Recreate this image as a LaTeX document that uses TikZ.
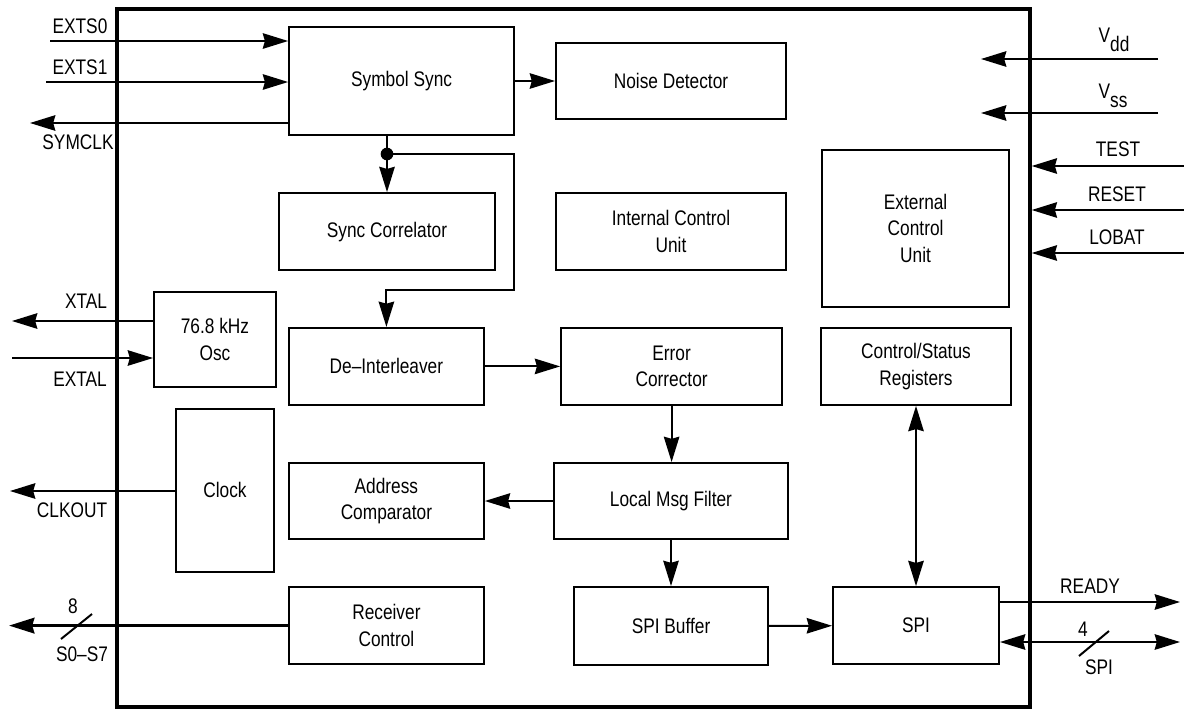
\documentclass[tikz,border=0pt]{standalone}
\usepackage{fontspec}
\setmainfont{Liberation Sans}[FakeStretch=0.82]
\usetikzlibrary{arrows.meta}

\begin{document}
\begin{tikzpicture}[every node/.style={font=\fontsize{15}{19}\selectfont},
    >={Stealth[length=18pt,width=11pt,inset=1.5pt]},
    blk/.style={draw, line width=1.4pt, align=center, inner sep=0pt},
    wire/.style={line width=1.4pt},
    bus/.style={line width=2.4pt}]
    \useasboundingbox (0,0) rectangle (29.6,-17.75);
    \node[draw, line width=2.4pt, minimum width=22.825cm,
      minimum height=17.45cm] (chip) at (14.3375,-8.95) {};

    \node[blk, minimum width=5.625cm, minimum height=2.7cm] (sync) at (10.04,-2.025) {Symbol Sync};
    \node[blk, minimum width=5.75cm, minimum height=1.9cm] (noise) at (16.775,-2.025) {Noise Detector};
    \node[blk, minimum width=5.4cm, minimum height=1.925cm] (corr) at (9.675,-5.79) {Sync Correlator};
    \node[blk, minimum width=5.75cm, minimum height=1.925cm] (icu) at (16.775,-5.79) {Internal Control\\Unit};
    \node[blk, minimum width=4.675cm, minimum height=3.925cm] (ecu) at (22.89,-5.71) {External\\Control\\Unit};
    \node[blk, minimum width=3.05cm, minimum height=2.375cm] (osc) at (5.375,-8.49) {76.8 kHz\\Osc};
    \node[blk, minimum width=4.875cm, minimum height=1.925cm] (deint) at (9.66,-9.16) {De--Interleaver};
    \node[blk, minimum width=5.525cm, minimum height=1.925cm] (errc) at (16.79,-9.16) {Error\\Corrector};
    \node[blk, minimum width=4.75cm, minimum height=1.925cm] (csr) at (22.9,-9.16) {Control/Status\\Registers};
    \node[blk, minimum width=2.45cm, minimum height=4.075cm] (clk) at (5.625,-12.26) {Clock};
    \node[blk, minimum width=4.875cm, minimum height=1.9cm] (addr) at (9.66,-12.525) {Address\\Comparator};
    \node[blk, minimum width=5.85cm, minimum height=1.9cm] (lmf) at (16.775,-12.525) {Local Msg Filter};
    \node[blk, minimum width=4.875cm, minimum height=1.925cm] (rxc) at (9.66,-15.64) {Receiver\\Control};
    \node[blk, minimum width=4.85cm, minimum height=1.95cm] (spibuf) at (16.775,-15.65) {SPI Buffer};
    \node[blk, minimum width=4.15cm, minimum height=1.925cm] (spi) at (22.9,-15.64) {SPI};

    \coordinate (in0) at (1.25,-1.025);
    \coordinate (in1) at (1.15,-2.05);
    \coordinate (symclk) at (0.75,-3.075);
    \coordinate (xtal) at (0.3,-8.025);
    \coordinate (extal) at (0.3,-8.95);
    \coordinate (clkout) at (0.25,-12.275);
    \coordinate (s07) at (0.225,-15.64);
    \coordinate (vdd) at (28.95,-1.475);
    \coordinate (vddtip) at (24.525,-1.475);
    \coordinate (vss) at (28.95,-2.825);
    \coordinate (vsstip) at (24.525,-2.825);
    \coordinate (test) at (29.6,-4.15);
    \coordinate (reset) at (29.6,-5.25);
    \coordinate (lobat) at (29.6,-6.325);
    \coordinate (ready) at (29.5,-15.05);
    \coordinate (spibus) at (29.5,-16.05);
    \coordinate (tap) at (9.675,-3.85);
    \coordinate (loop) at (12.85,-7.25);

    \draw[wire, ->] (in0) -- (in0 -| sync.west);
    \draw[wire, ->] (in1) -- (in1 -| sync.west);
    \draw[wire, ->] (symclk -| sync.west) -- (symclk);
    \draw[wire, ->] (sync) -- (noise);
    \draw[wire, ->] (tap |- sync.south) -- (corr.north);
    \fill (tap) circle (4.5pt);
    \draw[wire, ->] (tap) -| (loop) -| (deint.north);
    \draw[wire, ->] (deint) -- (errc);
    \draw[wire, ->] (errc.south) -- (errc.south |- lmf.north);
    \draw[wire, ->] (lmf) -- (addr);
    \draw[wire, ->] (lmf.south) -- (lmf.south |- spibuf.north);
    \draw[wire, ->] (spibuf) -- (spi);
    \draw[wire, <->] (csr) -- (spi);
    \draw[bus, ->] (rxc.west) -- (s07);
    \draw[wire] (1.525,-15.975) -- (2.3,-15.35);
    \draw[wire, ->] (xtal -| osc.west) -- (xtal);
    \draw[wire, ->] (extal) -- (extal -| osc.west);
    \draw[wire, ->] (clkout -| clk.west) -- (clkout);
    \draw[wire, ->] (vdd) -- (vddtip);
    \draw[wire, ->] (vss) -- (vsstip);
    \draw[wire, ->] (test) -- (test -| chip.east);
    \draw[wire, ->] (reset) -- (reset -| chip.east);
    \draw[wire, ->] (lobat) -- (lobat -| chip.east);
    \draw[wire, ->] (spi.east |- ready) -- (ready);
    \draw[wire, <->] (spibus -| spi.east) -- (spibus);
    \draw[wire] (26.975,-16.4) -- (27.725,-15.775);

    \node (lexts0) at (2.0,-0.65) {EXTS0};
    \node (lexts1) at (2.0,-1.675) {EXTS1};
    \node (lsymclk) at (1.95,-3.55) {SYMCLK};
    \node (lxtal) at (2.15,-7.525) {XTAL};
    \node (lextal) at (2.0,-9.475) {EXTAL};
    \node (lclkout) at (1.8,-12.75) {CLKOUT};
    \node (lbits) at (1.825,-15.15) {8};
    \node (ls07) at (2.05,-16.35) {S0--S7};
    \node (lvdd) at (27.85,-1.0) {V\raisebox{-6pt}{dd}};
    \node (lvss) at (27.825,-2.4) {V\raisebox{-6pt}{ss}};
    \node (ltest) at (27.95,-3.725) {TEST};
    \node (lreset) at (27.925,-4.85) {RESET};
    \node (llobat) at (27.925,-5.925) {LOBAT};
    \node (lready) at (27.25,-14.65) {READY};
    \node (lwidth) at (27.075,-15.725) {4};
    \node (lspi) at (27.475,-16.675) {SPI};
  \end{tikzpicture}
\end{document}
